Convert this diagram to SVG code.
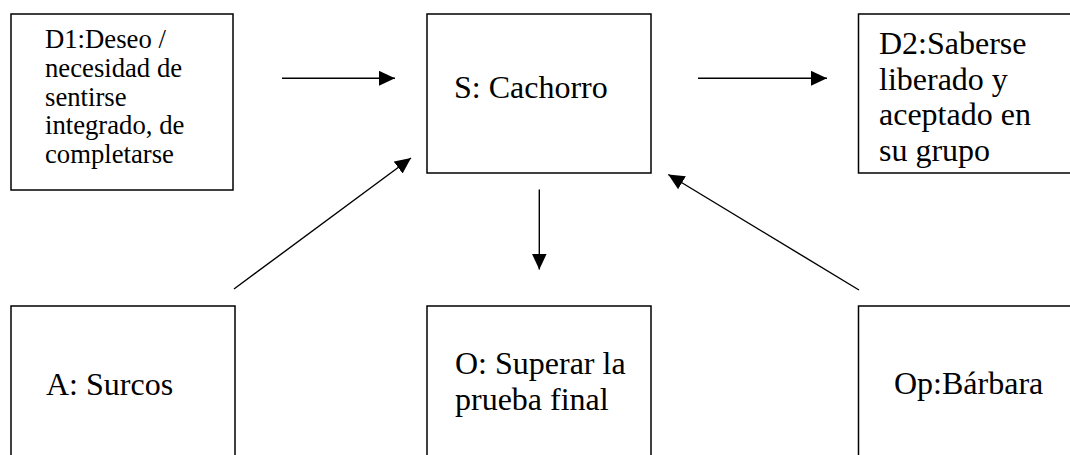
<svg xmlns="http://www.w3.org/2000/svg" width="1070" height="455" viewBox="0 0 1070 455">
<style>
.box{fill:#fff;stroke:#000;stroke-width:1.5}
.t{font-size:32px;fill:#000}
.ts{font-size:26.7px;fill:#000}
.c{stroke:#000;stroke-width:1.4;fill:none;marker-end:url(#ah)}
</style>
<defs>
<marker id="ah" markerUnits="userSpaceOnUse" markerWidth="17" markerHeight="16" refX="16" refY="7.5" orient="auto">
<path d="M0,0 L16,7.5 L0,15 z" fill="#000"/>
</marker>
<clipPath id="c1"><rect x="11" y="14" width="222" height="158"/></clipPath>
<clipPath id="c2"><rect x="858" y="14" width="220" height="159"/></clipPath>
</defs>
<rect width="1070" height="455" fill="#fff"/>
<g font-family="'Liberation Serif', 'Times New Roman', Tinos, 'DejaVu Serif', serif">
<g id="d1">
<rect class="box" x="11" y="14" width="222" height="176"/>
<g clip-path="url(#c1)">
<text class="ts" x="45" y="48">D1:Deseo /</text>
<text class="ts" x="45" y="77">necesidad de</text>
<text class="ts" x="45" y="105.5">sentirse</text>
<text class="ts" x="45" y="134">integrado, de</text>
<text class="ts" x="45" y="162.5">completarse</text>
</g>
</g>
<g id="s">
<rect class="box" x="427" y="14" width="224" height="159"/>
<text class="t" x="454" y="98">S: Cachorro</text>
</g>
<g id="d2">
<rect class="box" x="858.5" y="14" width="220" height="159"/>
<g clip-path="url(#c2)">
<text class="t" x="879" y="54">D2:Saberse</text>
<text class="t" x="879" y="89.5">liberado y</text>
<text class="t" x="879" y="125">aceptado en</text>
<text class="t" x="879" y="160.5">su grupo</text>
</g>
</g>
<g id="a">
<rect class="box" x="11" y="306" width="224" height="160"/>
<text class="t" x="46" y="395">A: Surcos</text>
</g>
<g id="o">
<rect class="box" x="427" y="306" width="224" height="160"/>
<text class="t" x="455" y="374">O: Superar la</text>
<text class="t" x="455" y="410">prueba final</text>
</g>
<g id="op">
<rect class="box" x="858.5" y="306" width="220" height="160"/>
<text class="t" x="894" y="394">Op:Bárbara</text>
</g>
</g>
<g id="connectors">
<line class="c" x1="282" y1="78.3" x2="395" y2="78.3"/>
<line class="c" x1="698" y1="78.3" x2="827" y2="78.3"/>
<line class="c" x1="539.3" y1="189.5" x2="539.3" y2="269.5"/>
<line class="c" x1="234" y1="289" x2="411" y2="158"/>
<line class="c" x1="859" y1="290" x2="668.3" y2="174.5"/>
</g>
</svg>
